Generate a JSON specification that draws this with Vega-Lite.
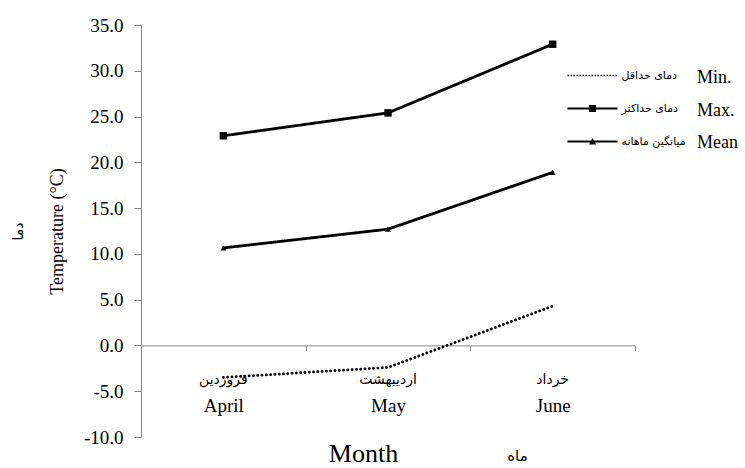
{
  "$schema": "https://vega.github.io/schema/vega-lite/v6.json",
  "width": 494,
  "height": 412,
  "autosize": {"type": "none"},
  "padding": {"left": 141, "top": 25, "right": 110, "bottom": 31},
  "background": "white",
  "config": {"view": {"stroke": null}, "font": "Liberation Serif", "axis": {"grid": false}},
  "data": {"values": [
    {"month": "April", "series": "Min.", "fa": "دمای حداقل", "value": -3.5},
    {"month": "May", "series": "Min.", "fa": "دمای حداقل", "value": -2.4},
    {"month": "June", "series": "Min.", "fa": "دمای حداقل", "value": 4.3},
    {"month": "April", "series": "Max.", "fa": "دمای حداکثر", "value": 22.9},
    {"month": "May", "series": "Max.", "fa": "دمای حداکثر", "value": 25.4},
    {"month": "June", "series": "Max.", "fa": "دمای حداکثر", "value": 32.9},
    {"month": "April", "series": "Mean", "fa": "میانگین ماهانه", "value": 10.65},
    {"month": "May", "series": "Mean", "fa": "میانگین ماهانه", "value": 12.7},
    {"month": "June", "series": "Mean", "fa": "میانگین ماهانه", "value": 18.9}
  ]},
  "layer": [
    {
      "mark": {"type": "line", "strokeWidth": 2.8, "strokeCap": "round", "color": "black"},
      "encoding": {
        "x": {"field": "month", "type": "nominal",
          "scale": {"type": "band", "domain": ["April", "May", "June"], "paddingInner": 0, "paddingOuter": 0},
          "axis": {"orient": "bottom", "offset": -91.6, "title": "Month", "titleFont": "Liberation Serif", "titleFontSize": 26, "titleFontWeight": "normal", "titleColor": "black", "titleX": 222, "titleY": 116.5, "titleBaseline": "alphabetic",
            "labelAngle": 0, "labelFont": "Liberation Serif", "labelFontSize": 19, "labelColor": "black", "labelPadding": 46,
            "tickBand": "extent", "tickSize": 5, "tickColor": "#868686", "domainColor": "#868686", "domainWidth": 1}},
        "y": {"field": "value", "type": "quantitative",
          "scale": {"domain": [-10, 35], "nice": false, "zero": false},
          "axis": {"orient": "left", "values": [-10, -5, 0, 5, 10, 15, 20, 25, 30, 35], "format": ".1f", "labelExpr": "replace(datum.label, '−', '-')",
            "labelFont": "Liberation Serif", "labelFontSize": 19, "labelColor": "black", "labelPadding": 11,
            "tickSize": 7, "tickColor": "#868686", "domainColor": "#868686",
            "title": "Temperature (°C)", "titleFont": "Liberation Serif", "titleFontSize": 18, "titleFontWeight": "normal", "titleColor": "black", "titleX": -84, "titleBaseline": "middle"}},
        "strokeDash": {"field": "series", "type": "nominal",
          "scale": {"domain": ["Min.", "Max.", "Mean"], "range": [[0.1, 4.2], [1, 0], [1, 0]]},
          "legend": {"orient": "none", "legendX": 538, "legendY": 44, "title": null, "padding": 0,
            "labelFont": "Liberation Serif", "labelFontSize": 18, "labelColor": "black", "labelOffset": 0,
            "symbolOpacity": 0, "symbolSize": 1, "rowPadding": 14.5}}
      }
    },
    {
      "transform": [{"filter": "datum.series !== 'Min.'"}],
      "mark": {"type": "point", "filled": true, "color": "black", "opacity": 1},
      "encoding": {
        "x": {"field": "month", "type": "nominal",
          "axis": {"orient": "bottom", "offset": -91.6, "title": "ماه", "titleFont": "DejaVu Sans", "titleFontSize": 15, "titleFontWeight": "normal", "titleColor": "black", "titleX": 376, "titleY": 115, "titleBaseline": "alphabetic",
            "labelExpr": "datum.value === 'April' ? 'فروردین' : datum.value === 'May' ? 'اردیبهشت' : 'خرداد'",
            "labelFont": "DejaVu Sans", "labelFontSize": 14, "labelColor": "black", "labelPadding": 27, "labelAngle": 0,
            "domain": false, "ticks": false, "tickSize": 0}},
        "y": {"field": "value", "type": "quantitative",
          "axis": {"orient": "left", "domain": false, "ticks": false, "labels": false, "tickSize": 0,
            "title": "دما", "titleFont": "DejaVu Sans", "titleFontSize": 14, "titleFontWeight": "normal", "titleColor": "black", "titleX": -123, "titleBaseline": "middle"}},
        "shape": {"field": "series", "type": "nominal", "scale": {"domain": ["Max.", "Mean"], "range": ["square", "triangle-up"]}, "legend": null},
        "size": {"field": "series", "type": "ordinal", "scale": {"domain": ["Max.", "Mean"], "range": [55, 35]}, "legend": null}
      }
    },
    {
      "transform": [{"filter": "datum.value > 1000"}],
      "mark": {"type": "point", "filled": true, "color": "black", "opacity": 1},
      "encoding": {
        "x": {"field": "month", "type": "nominal", "axis": null},
        "y": {"field": "value", "type": "quantitative", "axis": null},
        "shape": {"field": "fa", "type": "nominal",
          "scale": {"domain": ["دمای حداقل", "دمای حداکثر", "میانگین ماهانه"],
            "range": [
              "M-1,-0.15H-0.7V0.15H-1ZM-0.4,-0.15H-0.1V0.15H-0.4ZM0.2,-0.15H0.5V0.15H0.2ZM0.8,-0.15H1.1V0.15H0.8ZM1.4,-0.15H1.7V0.15H1.4ZM2,-0.15H2.3V0.15H2ZM2.6,-0.15H2.9V0.15H2.6ZM3.2,-0.15H3.5V0.15H3.2ZM3.8,-0.15H4.1V0.15H3.8ZM4.4,-0.15H4.7V0.15H4.4ZM5,-0.15H5.3V0.15H5ZM5.6,-0.15H5.9V0.15H5.6ZM6.2,-0.15H6.5V0.15H6.2ZM6.8,-0.15H7.1V0.15H6.8ZM7.4,-0.15H7.7V0.15H7.4ZM8,-0.15H8.3V0.15H8ZM8.6,-0.15H8.9V0.15H8.6Z",
              "M-1,-0.2H9V0.2H-1ZM3.3,-0.7H4.7V0.7H3.3Z",
              "M-1,-0.2H9V0.2H-1ZM3.3,0.6L4,-0.7L4.7,0.6Z"
            ]},
          "legend": {"orient": "none", "legendX": 426, "legendY": 45, "title": null, "padding": 0,
            "labelFont": "DejaVu Sans", "labelFontSize": 11, "labelColor": "black", "labelOffset": 43.5,
            "symbolSize": 100, "symbolStrokeWidth": 0, "symbolFillColor": "black", "symbolStrokeColor": "black", "symbolOpacity": 1, "rowPadding": 21,
            "encode": {"symbols": {"update": {"fill": {"value": "black"}, "opacity": {"value": 1}}}}}}
      }
    }
  ],
  "resolve": {
    "scale": {"shape": "independent", "size": "independent"},
    "legend": {"shape": "independent"},
    "axis": {"x": "independent", "y": "independent"}
  }
}
